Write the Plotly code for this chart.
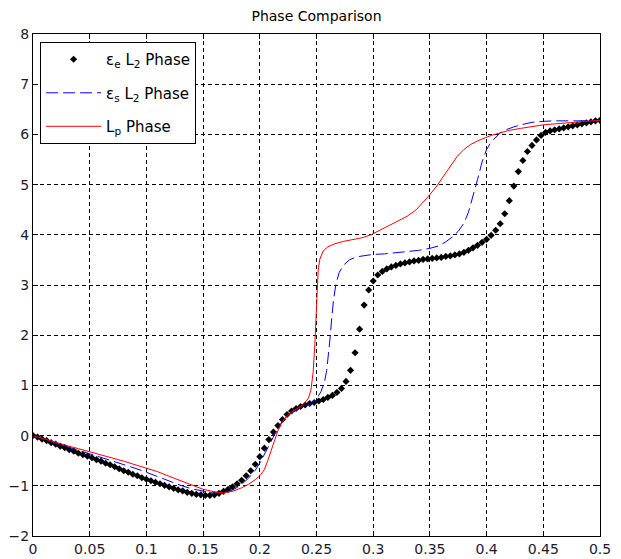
import numpy as np
import plotly.graph_objects as go

# ---- data ----
# eps_e L2 phase (black diamonds), sampled every 0.004
ee_x = np.linspace(0, 0.5, 126)
ee_y = [0.00, -0.03, -0.07, -0.10, -0.14, -0.17, -0.21, -0.24, -0.28, -0.31,
        -0.35, -0.38, -0.41, -0.44, -0.48, -0.51, -0.55, -0.58, -0.62, -0.66,
        -0.70, -0.73, -0.77, -0.80, -0.84, -0.87, -0.90, -0.93, -0.96, -0.99,
        -1.02, -1.05, -1.08, -1.10, -1.13, -1.15, -1.17, -1.18, -1.19, -1.19,
        -1.18, -1.15, -1.11, -1.07, -1.02, -0.96, -0.89, -0.80, -0.70, -0.57,
        -0.42, -0.25, -0.08, 0.07, 0.20, 0.32, 0.42, 0.49, 0.54, 0.58,
        0.61, 0.64, 0.66, 0.69, 0.72, 0.76, 0.80, 0.86, 0.94, 1.08,
        1.30, 1.65, 2.12, 2.60, 2.90, 3.08, 3.20, 3.27, 3.32, 3.36,
        3.39, 3.42, 3.44, 3.46, 3.48, 3.49, 3.51, 3.52, 3.53, 3.54,
        3.55, 3.57, 3.58, 3.60, 3.62, 3.65, 3.69, 3.74, 3.79, 3.85,
        3.91, 3.99, 4.09, 4.22, 4.42, 4.68, 4.97, 5.26, 5.48, 5.66,
        5.78, 5.89, 5.98, 6.04, 6.07, 6.09, 6.11, 6.13, 6.15, 6.17,
        6.19, 6.21, 6.23, 6.25, 6.27, 6.28]

# eps_s L2 phase (blue dashed)
es_x = [0.000, 0.010, 0.020, 0.030, 0.040, 0.050, 0.060, 0.070, 0.080, 0.090,
        0.100, 0.110, 0.120, 0.130, 0.140, 0.150, 0.160, 0.166, 0.172, 0.178,
        0.184, 0.190, 0.196, 0.200, 0.204, 0.208, 0.212, 0.216, 0.220, 0.224,
        0.228, 0.232, 0.236, 0.240, 0.244, 0.248, 0.251, 0.254, 0.257, 0.259,
        0.2605, 0.262, 0.2635, 0.265, 0.267, 0.270, 0.274, 0.279, 0.285, 0.292,
        0.300, 0.310, 0.320, 0.330, 0.340, 0.350, 0.358, 0.364, 0.370, 0.375,
        0.380, 0.384, 0.388, 0.392, 0.396, 0.400, 0.404, 0.408, 0.412, 0.418,
        0.424, 0.432, 0.440, 0.450, 0.460, 0.480, 0.500]
es_y = [0.00, -0.08, -0.15, -0.22, -0.29, -0.36, -0.43, -0.50, -0.58, -0.65,
        -0.73, -0.82, -0.91, -0.99, -1.06, -1.11, -1.15, -1.15, -1.12, -1.06,
        -0.97, -0.85, -0.69, -0.55, -0.37, -0.18, -0.02, 0.15, 0.29, 0.39,
        0.46, 0.51, 0.55, 0.59, 0.63, 0.69, 0.76, 0.88, 1.06, 1.30,
        1.60, 1.95, 2.35, 2.70, 3.00, 3.25, 3.40, 3.50, 3.56, 3.59,
        3.61, 3.62, 3.64, 3.66, 3.69, 3.73, 3.78, 3.86, 3.96, 4.07,
        4.23, 4.45, 4.75, 5.10, 5.45, 5.70, 5.85, 5.95, 6.03, 6.10,
        6.15, 6.20, 6.24, 6.26, 6.27, 6.27, 6.28]

# Lp phase (red solid)
lp_x = [0.000, 0.010, 0.020, 0.030, 0.040, 0.050, 0.060, 0.070, 0.080, 0.090,
        0.100, 0.110, 0.120, 0.130, 0.140, 0.150, 0.160, 0.168, 0.176, 0.184,
        0.190, 0.196, 0.200, 0.204, 0.207, 0.210, 0.213, 0.216, 0.220, 0.224,
        0.228, 0.232, 0.236, 0.240, 0.243, 0.245, 0.247, 0.2485, 0.2495, 0.2505,
        0.2515, 0.253, 0.256, 0.260, 0.266, 0.274, 0.282, 0.290, 0.298, 0.306,
        0.314, 0.322, 0.330, 0.338, 0.344, 0.350, 0.356, 0.362, 0.368, 0.374,
        0.380, 0.386, 0.392, 0.398, 0.404, 0.412, 0.420, 0.430, 0.440, 0.450,
        0.460, 0.470, 0.480, 0.490, 0.500]
lp_y = [0.00, -0.07, -0.14, -0.20, -0.26, -0.32, -0.38, -0.45, -0.51, -0.58,
        -0.65, -0.72, -0.81, -0.90, -0.99, -1.07, -1.12, -1.14, -1.11, -1.04,
        -0.97, -0.88, -0.80, -0.68, -0.50, -0.30, -0.08, 0.10, 0.28, 0.40,
        0.47, 0.53, 0.58, 0.66, 0.75, 0.90, 1.25, 1.80, 2.40, 2.95,
        3.30, 3.52, 3.68, 3.76, 3.82, 3.87, 3.90, 3.94, 4.00, 4.09,
        4.18, 4.27, 4.37, 4.50, 4.64, 4.80, 4.97, 5.17, 5.36, 5.56,
        5.70, 5.80, 5.87, 5.93, 5.98, 6.03, 6.08, 6.12, 6.16, 6.19,
        6.21, 6.23, 6.24, 6.26, 6.28]

names = ["\u03b5<sub>e</sub> L<sub>2</sub> Phase",
         "\u03b5<sub>s</sub> L<sub>2</sub> Phase",
         "L<sub>p</sub> Phase"]

FONT = "DejaVu Sans"

fig = go.Figure()
fig.add_trace(go.Scatter(x=ee_x, y=ee_y, mode="markers", name=names[0],
                         legendgroup="a",
                         marker=dict(symbol="diamond", size=5.5, color="black",
                                     line=dict(width=0))))
fig.add_trace(go.Scatter(x=es_x, y=es_y, mode="lines", name=names[1],
                         legendgroup="b",
                         line=dict(color="#0000FF", width=1, dash="12px,5px")))
fig.add_trace(go.Scatter(x=lp_x, y=lp_y, mode="lines", name=names[2],
                         legendgroup="c",
                         line=dict(color="#FF0000", width=1)))

axis_common = dict(
    showline=True, linecolor="black", linewidth=1, mirror="ticks",
    ticks="inside", ticklen=5, tickcolor="black", tickwidth=1,
    showgrid=True, gridcolor="black", gridwidth=1, griddash="4px,3px",
    zeroline=False, automargin=False,
    tickfont=dict(family=FONT, size=14, color="#1a1a2e"),
)

fig.update_xaxes(range=[0, 0.5], dtick=0.05, tick0=0, **axis_common)
fig.update_yaxes(range=[-2, 8], dtick=1, tick0=0, **axis_common)

fig.update_layout(
    width=621, height=559,
    margin=dict(l=33, r=21, t=34, b=23),
    paper_bgcolor="white", plot_bgcolor="white",
    title=dict(text="Phase Comparison", x=0.5, xref="paper", xanchor="center",
               y=1 - 16 / 559, yref="container", yanchor="middle",
               font=dict(family=FONT, size=14, color="black")),
    showlegend=True,
    legend=dict(x=0.0125, y=0.984, xanchor="left", yanchor="top",
                bgcolor="white", bordercolor="black", borderwidth=1,
                font=dict(family=FONT, size=15, color="black"),
                itemwidth=55, tracegroupgap=11, traceorder="grouped"),
)

fig.write_html("out.html",
               config={"displayModeBar": False},
               post_script="document.body.style.margin='0';"
                           "document.body.style.padding='0';")
